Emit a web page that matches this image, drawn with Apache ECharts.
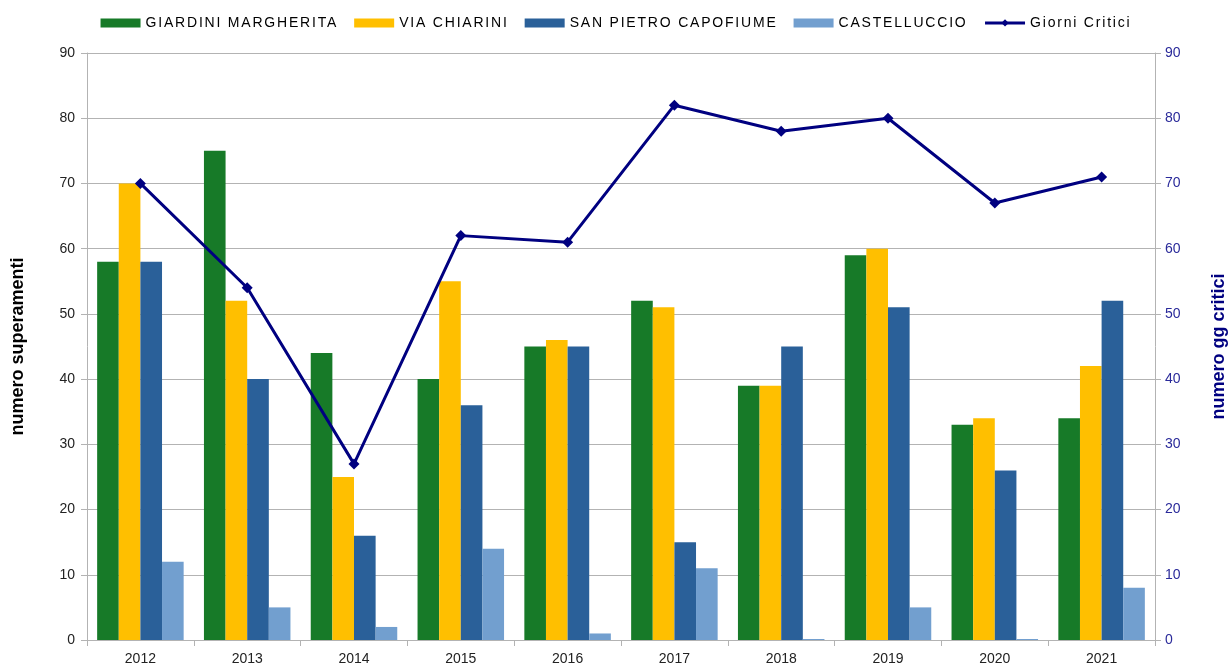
<!DOCTYPE html>
<html>
<head>
<meta charset="utf-8">
<script src="https://cdn.jsdelivr.net/npm/echarts@6/dist/echarts.min.js"></script>
<style>
  html, body { margin: 0; padding: 0; background: #fff; }
  #chart { width: 1232px; height: 666px; }
</style>
</head>
<body>
<div id="chart"></div>
<script>
var anni = ['2012', '2013', '2014', '2015', '2016', '2017', '2018', '2019', '2020', '2021'];
var giardini = [58, 75, 44, 40, 45, 52, 39, 59, 33, 34];
var chiarini = [70, 52, 25, 55, 46, 51, 39, 60, 34, 42];
var sanPietro = [58, 40, 16, 36, 45, 15, 45, 51, 26, 52];
var castelluccio = [12, 5, 2, 14, 1, 11, 0, 5, 0, 8];
var giorniCritici = [70, 54, 27, 62, 61, 82, 78, 80, 67, 71];

// testo della legenda spaziato (come nell'originale)
(function () {
  var proto = CanvasRenderingContext2D.prototype;
  var fill = proto.fillText, measure = proto.measureText;
  function spacing(ctx) {
    if ('letterSpacing' in ctx) {
      ctx.letterSpacing = ctx.font.indexOf('LegendSpaced') >= 0 ? '1.8px' : '0px';
    }
  }
  proto.fillText = function () { spacing(this); return fill.apply(this, arguments); };
  proto.measureText = function () { spacing(this); return measure.apply(this, arguments); };
})();

var myChart = echarts.init(document.getElementById('chart'));

var barStyle = function (name, color, data) {
  return {
    name: name,
    type: 'bar',
    data: data,
    barGap: 0,
    barCategoryGap: '19%',
    barMinHeight: 1,
    itemStyle: { color: color }
  };
};

var option = {
  animation: false,
  textStyle: { fontFamily: 'Liberation Sans' },
  legend: {
    top: 10,
    left: 'center',
    itemWidth: 40,
    itemHeight: 9,
    itemGap: 16,
    textStyle: { fontSize: 14, color: '#000', fontFamily: '"Liberation Sans", LegendSpaced' },
    data: [
      { name: 'GIARDINI MARGHERITA', icon: 'rect' },
      { name: 'VIA CHIARINI', icon: 'rect' },
      { name: 'SAN PIETRO CAPOFIUME', icon: 'rect' },
      { name: 'CASTELLUCCIO', icon: 'rect' },
      { name: 'Giorni Critici', lineStyle: { width: 3 } }
    ]
  },
  grid: { left: 87, right: 77, top: 53, bottom: 26, outerBoundsMode: 'none' },
  xAxis: {
    type: 'category',
    data: anni,
    axisLine: { lineStyle: { color: '#b3b3b3' } },
    axisTick: { show: true, length: 6, lineStyle: { color: '#b3b3b3' } },
    axisLabel: { color: '#222', fontSize: 14, margin: 12 }
  },
  yAxis: [
    {
      type: 'value',
      min: 0, max: 90, interval: 10,
      name: 'numero superamenti',
      nameLocation: 'middle',
      nameGap: 60,
      nameTextStyle: { fontSize: 18, fontWeight: 'bold', color: '#000' },
      axisLine: { show: true, lineStyle: { color: '#b3b3b3' } },
      axisTick: { show: true, length: 6, lineStyle: { color: '#b3b3b3' } },
      axisLabel: { color: '#222', fontSize: 14, margin: 12 },
      splitLine: { lineStyle: { color: '#b3b3b3' } }
    },
    {
      type: 'value',
      min: 0, max: 90, interval: 10,
      name: 'numero gg critici',
      nameLocation: 'middle',
      nameGap: 55,
      nameTextStyle: { fontSize: 18, fontWeight: 'bold', color: '#000080' },
      axisLine: { show: true, lineStyle: { color: '#b3b3b3' } },
      axisTick: { show: true, length: 6, lineStyle: { color: '#b3b3b3' } },
      axisLabel: { color: '#2a2a9a', fontSize: 14, margin: 10 },
      splitLine: { show: false }
    }
  ],
  series: [
    barStyle('GIARDINI MARGHERITA', '#177a28', giardini),
    barStyle('VIA CHIARINI', '#ffbf00', chiarini),
    barStyle('SAN PIETRO CAPOFIUME', '#2a6099', sanPietro),
    barStyle('CASTELLUCCIO', '#729fcf', castelluccio),
    {
      name: 'Giorni Critici',
      type: 'line',
      yAxisIndex: 1,
      data: giorniCritici,
      symbol: 'diamond',
      symbolSize: 11,
      lineStyle: { color: '#000080', width: 3 },
      itemStyle: { color: '#000080' },
      z: 5
    }
  ]
};

myChart.setOption(option);
</script>
</body>
</html>
